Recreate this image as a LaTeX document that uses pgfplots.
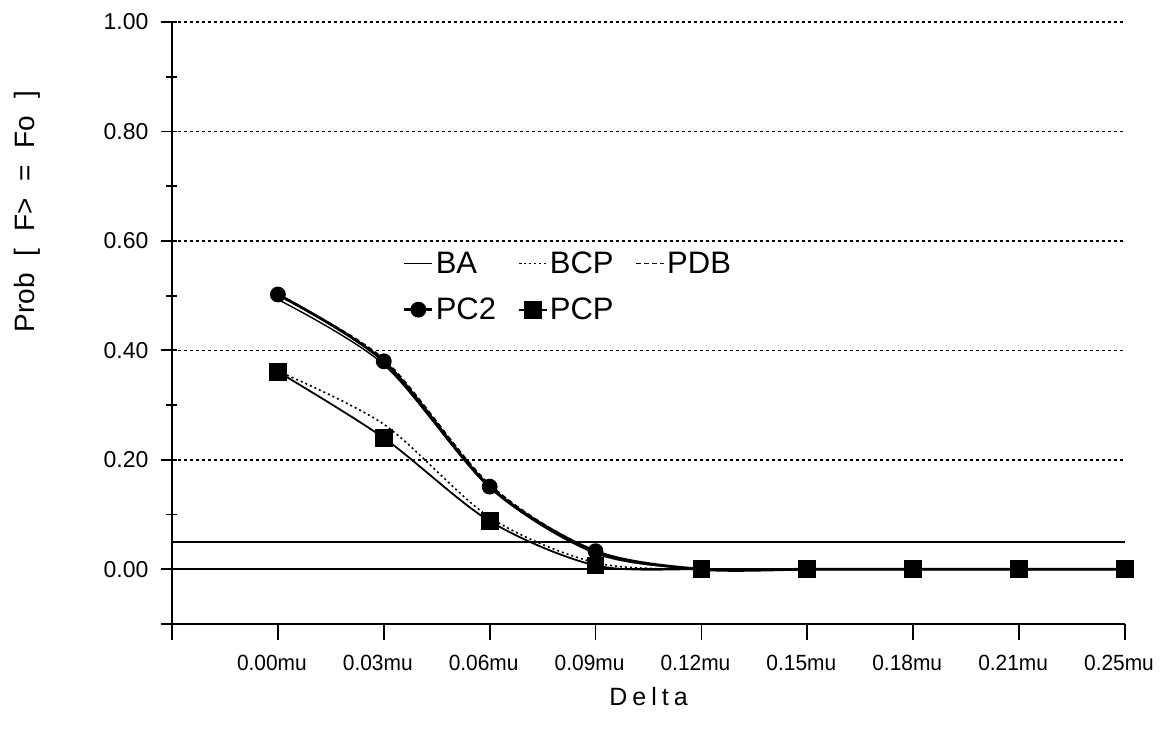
\documentclass[border=0pt]{standalone}
\usepackage{fontspec}
\usepackage{pgfplots}
\pgfplotsset{compat=1.18}
\setmainfont{Liberation Sans}
\newfontfamily\narrowfont[FakeStretch=0.95]{Liberation Sans}

\begin{document}
\begin{tikzpicture}
\begin{axis}[
  name=ax,
  scale only axis,
  width=953pt, height=602pt,
  xmin=-1, xmax=8,
  ymin=-0.1, ymax=1.0,
  axis lines=left,
  axis line style={-, line width=2.2pt},
  xtick={-1,0,1,2,3,4,5,6,7,8},
  xticklabels={,0.00mu,0.03mu,0.06mu,0.09mu,0.12mu,0.15mu,0.18mu,0.21mu,0.25mu},
  ytick={-0.1,0,0.2,0.4,0.6,0.8,1.0},
  yticklabels={,0.00,0.20,0.40,0.60,0.80,1.00},
  minor ytick={0.1,0.3,0.5,0.7,0.9},
  tick align=outside,
  major tick length=16pt,
  minor tick length=11pt,
  tick style={line width=1.8pt, black},
  y tick style={xshift=5pt},
  ymajorgrids,
  major grid style={black, line width=1.5pt, dash pattern=on 3pt off 3pt},
  xticklabel style={font=\fontsize{22}{22}\narrowfont, xshift=-6pt, yshift=-12pt},
  yticklabel style={font=\fontsize{23}{23}\selectfont, xshift=-4pt},
  xlabel={D\hspace{5pt}e\hspace{5pt}l\hspace{5pt}t\hspace{5pt}a},
  xlabel style={at={(axis description cs:0.5,-0.12)}, anchor=center,
    font=\fontsize{25}{25}\selectfont},
  ylabel={Prob\hspace{0.6em}[\hspace{0.6em}F>\hspace{0.6em}=\hspace{0.6em}Fo\hspace{0.6em}]},
  ylabel style={at={(axis description cs:-0.152,0.685)}, anchor=center,
    font=\fontsize{28}{28}\selectfont},
  legend columns=3,
  legend cell align=left,
  legend style={at={(axis description cs:0.239,0.625)}, anchor=north west,
    draw=none, fill=none, font=\fontsize{31}{36}\selectfont,
    /tikz/every even column/.append style={column sep=20pt},
    row sep=19pt},
  legend image code/.code={%
    \draw[mark repeat=2,mark phase=2,#1]
      plot coordinates {(0pt,0pt) (14pt,0pt) (28pt,0pt)};},
  clip=false,
]
% reference levels at 0 and 0.05
\addplot[black, line width=2pt, forget plot] coordinates {(-1,0.05) (8,0.05)};
\addplot[black, line width=2pt, forget plot] coordinates {(-1,0) (8,0)};

% BA
\addplot[black, line width=1.4pt, smooth] coordinates {
  (0,0.493) (1,0.374) (2,0.149) (3,0.029) (4,0) (5,0) (6,0) (7,0) (8,0)};
\addlegendentry{BA}
% BCP
\addplot[black, line width=1.6pt, smooth, dash pattern=on 2pt off 3pt] coordinates {
  (0,0.362) (1,0.265) (2,0.095) (3,0.012) (4,0) (5,0) (6,0) (7,0) (8,0)};
\addlegendentry{BCP}
% PDB
\addplot[black, line width=1.6pt, smooth, dash pattern=on 5pt off 3pt] coordinates {
  (0,0.500) (1,0.384) (2,0.155) (3,0.033) (4,0) (5,0) (6,0) (7,0) (8,0)};
\addlegendentry{PDB}
% PC2
\addplot[black, line width=2.8pt, smooth, mark=*, mark size=6.5pt,
  mark options={solid}] coordinates {
  (0,0.502) (1,0.380) (2,0.151) (3,0.033) (4,0) (5,0) (6,0) (7,0) (8,0)};
\addlegendentry{PC2}
% PCP
\addplot[black, line width=1.8pt, smooth, mark=square*, mark size=8pt,
  mark options={solid}] coordinates {
  (0,0.361) (1,0.240) (2,0.088) (3,0.007) (4,0) (5,0) (6,0) (7,0) (8,0)};
\addlegendentry{PCP}
\end{axis}
\path ([shift={(-172pt,-110pt)}]ax.south west) rectangle ([shift={(41pt,22pt)}]ax.north east);
\end{tikzpicture}
\end{document}
